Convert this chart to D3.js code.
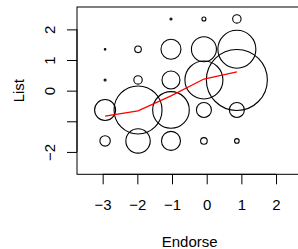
<!DOCTYPE html>
<html>
<head>
<meta charset="utf-8">
<script src="https://cdn.jsdelivr.net/npm/d3@7"></script>
<style>
  body { margin: 0; background: #fff; }
  svg { display: block; font-family: "Liberation Sans", Arial, sans-serif; }
</style>
</head>
<body>
<svg id="chart" width="298" height="249"></svg>
<script>
// column / row positions of the bubbles
const endorseLevels = [-2.93, -1.98, -1.03, -0.08, 0.87];
const listLevels = [2.34, 1.35, 0.35, -0.63, -1.64];
// bubble sizes, one row per list level
const freq = [
    [0, 0, 2, 4, 8.4],
    [1.6, 6.6, 20, 25, 38],
    [2, 8.4, 18, 38, 61],
    [21, 48, 36.6, 15, 15],
    [10.4, 24.4, 19, 6.6, 4.6]
];
// smoothed trend (red line)
const trendY = [-0.83, -0.66, -0.17, 0.38, 0.61];

const xTicks = [-3, -2, -1, 0, 1, 2];
const yTicks = [-2, -1, 0, 1, 2];

const svg = d3.select("#chart");
const plotLeft = 77, plotRight = 302.4, plotTop = 7, plotBottom = 174.3;

const xScale = d3.scaleLinear().domain([-3.74, 2.76]).range([plotLeft, plotRight]);
const yScale = d3.scaleLinear().domain([-2.73, 2.73]).range([plotBottom, plotTop]);
const radius = d3.scaleLinear().domain([0, 61]).range([0, 30.5]);

const cells = [];
listLevels.forEach((ly, i) => {
    endorseLevels.forEach((ex, j) => {
        if (freq[i][j] > 0) cells.push({x: ex, y: ly, n: freq[i][j]});
    });
});

svg.append("g")
    .selectAll("circle")
    .data(cells)
    .join("circle")
    .attr("cx", d => xScale(d.x))
    .attr("cy", d => yScale(d.y))
    .attr("r", d => radius(d.n))
    .style("fill", "none")
    .style("stroke", "#000")
    .style("stroke-width", 1.1);

const line = d3.line()
    .x(d => xScale(d[0]))
    .y(d => yScale(d[1]));

svg.append("path")
    .datum(endorseLevels.map((e, i) => [e, trendY[i]]))
    .attr("d", line)
    .style("fill", "none")
    .style("stroke", "#ff0000")
    .style("stroke-width", 1.3);

// plot box
svg.append("rect")
    .attr("x", plotLeft).attr("y", plotTop)
    .attr("width", plotRight - plotLeft).attr("height", plotBottom - plotTop)
    .style("fill", "none").style("stroke", "#000").style("stroke-width", 1);

// x axis
const xAxis = svg.append("g")
    .attr("transform", `translate(0,${plotBottom})`)
    .call(d3.axisBottom(xScale).tickValues(xTicks).tickSize(10).tickPadding(15).tickSizeOuter(0)
        .tickFormat(d3.format("d")));
xAxis.select(".domain").remove();
xAxis.append("line")
    .attr("x1", xScale(xTicks[0])).attr("x2", xScale(xTicks[xTicks.length - 1]))
    .attr("stroke", "#000");
xAxis.attr("font-family", null);
xAxis.selectAll("text").style("font-size", "15px").style("fill", "#000");

// y axis
const yAxis = svg.append("g")
    .attr("transform", `translate(${plotLeft},0)`)
    .call(d3.axisLeft(yScale).tickValues(yTicks).tickSize(10).tickSizeOuter(0)
        .tickFormat(d => d === -1 ? "" : d3.format("d")(d)));
yAxis.select(".domain").remove();
yAxis.append("line")
    .attr("y1", yScale(yTicks[0])).attr("y2", yScale(yTicks[yTicks.length - 1]))
    .attr("stroke", "#000");
yAxis.attr("font-family", null);
yAxis.selectAll("text")
    .attr("transform", "rotate(-90)")
    .attr("x", 0).attr("y", -22).attr("dy", null)
    .attr("text-anchor", "middle")
    .style("font-size", "15px").style("fill", "#000");

// axis titles
svg.append("text")
    .attr("x", (plotLeft + plotRight) / 2).attr("y", 246.5)
    .attr("text-anchor", "middle")
    .style("font-size", "15px")
    .text("Endorse");

svg.append("text")
    .attr("transform", `translate(24,${(plotTop + plotBottom) / 2}) rotate(-90)`)
    .attr("text-anchor", "middle")
    .style("font-size", "15px")
    .text("List");
</script>
</body>
</html>
